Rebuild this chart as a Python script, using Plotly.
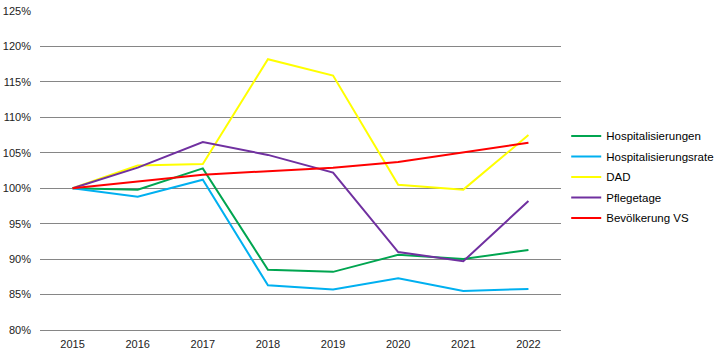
import plotly.graph_objects as go

years = ["2015", "2016", "2017", "2018", "2019", "2020", "2021", "2022"]
hospitalisierungen = [100.0, 99.8, 102.8, 88.5, 88.2, 90.6, 90.0, 91.3]
hospitalisierungsrate = [100.0, 98.8, 101.2, 86.3, 85.7, 87.3, 85.5, 85.8]
dad = [100.0, 103.2, 103.4, 118.2, 115.9, 100.5, 99.8, 107.5]
pflegetage = [100.0, 102.9, 106.5, 104.7, 102.2, 91.0, 89.7, 98.2]
bevoelkerung = [100.0, 101.0, 101.9, 102.4, 102.9, 103.7, 105.1, 106.4]

series = [
    ("Hospitalisierungen", hospitalisierungen, "#00A550"),
    ("Hospitalisierungsrate", hospitalisierungsrate, "#00B0F0"),
    ("DAD", dad, "#FFFF00"),
    ("Pflegetage", pflegetage, "#7030A0"),
    ("Bevölkerung VS", bevoelkerung, "#FF0000"),
]

fig = go.Figure()
for name, vals, color in series:
    fig.add_trace(go.Scatter(x=years, y=vals, name=name, mode="lines",
                             legendgroup=name,
                             line=dict(color=color, width=2)))

font = dict(family="Liberation Sans, Arial, sans-serif", size=11, color="#222222")
fig.update_layout(
    width=716, height=358,
    margin=dict(l=40, r=155, t=11, b=28, autoexpand=False),
    paper_bgcolor="white", plot_bgcolor="white",
    font=font,
    showlegend=True,
    legend=dict(x=1.010, xanchor="left", y=0.48, yanchor="middle",
                font=dict(family="Liberation Sans, Arial, sans-serif", size=11.5, color="#000000"),
                itemwidth=30, tracegroupgap=1.5, borderwidth=0, bgcolor="rgba(0,0,0,0)"),
)
fig.update_xaxes(type="category", range=[-0.5, 7.5], showgrid=False,
                 showline=True, linecolor="#868686", linewidth=1,
                 ticks="", tickfont=font, zeroline=False, ticklabelstandoff=4)
fig.update_yaxes(range=[80, 125], dtick=5, tick0=80, ticksuffix="%",
                 showgrid=True, gridcolor="#868686", gridwidth=1,
                 zeroline=False, showline=False, ticks="", tickfont=font,
                 ticklabelstandoff=8)

fig.write_html("out.html", config={"displayModeBar": False},
               post_script="document.body.style.margin='0';document.body.style.overflow='hidden';")
